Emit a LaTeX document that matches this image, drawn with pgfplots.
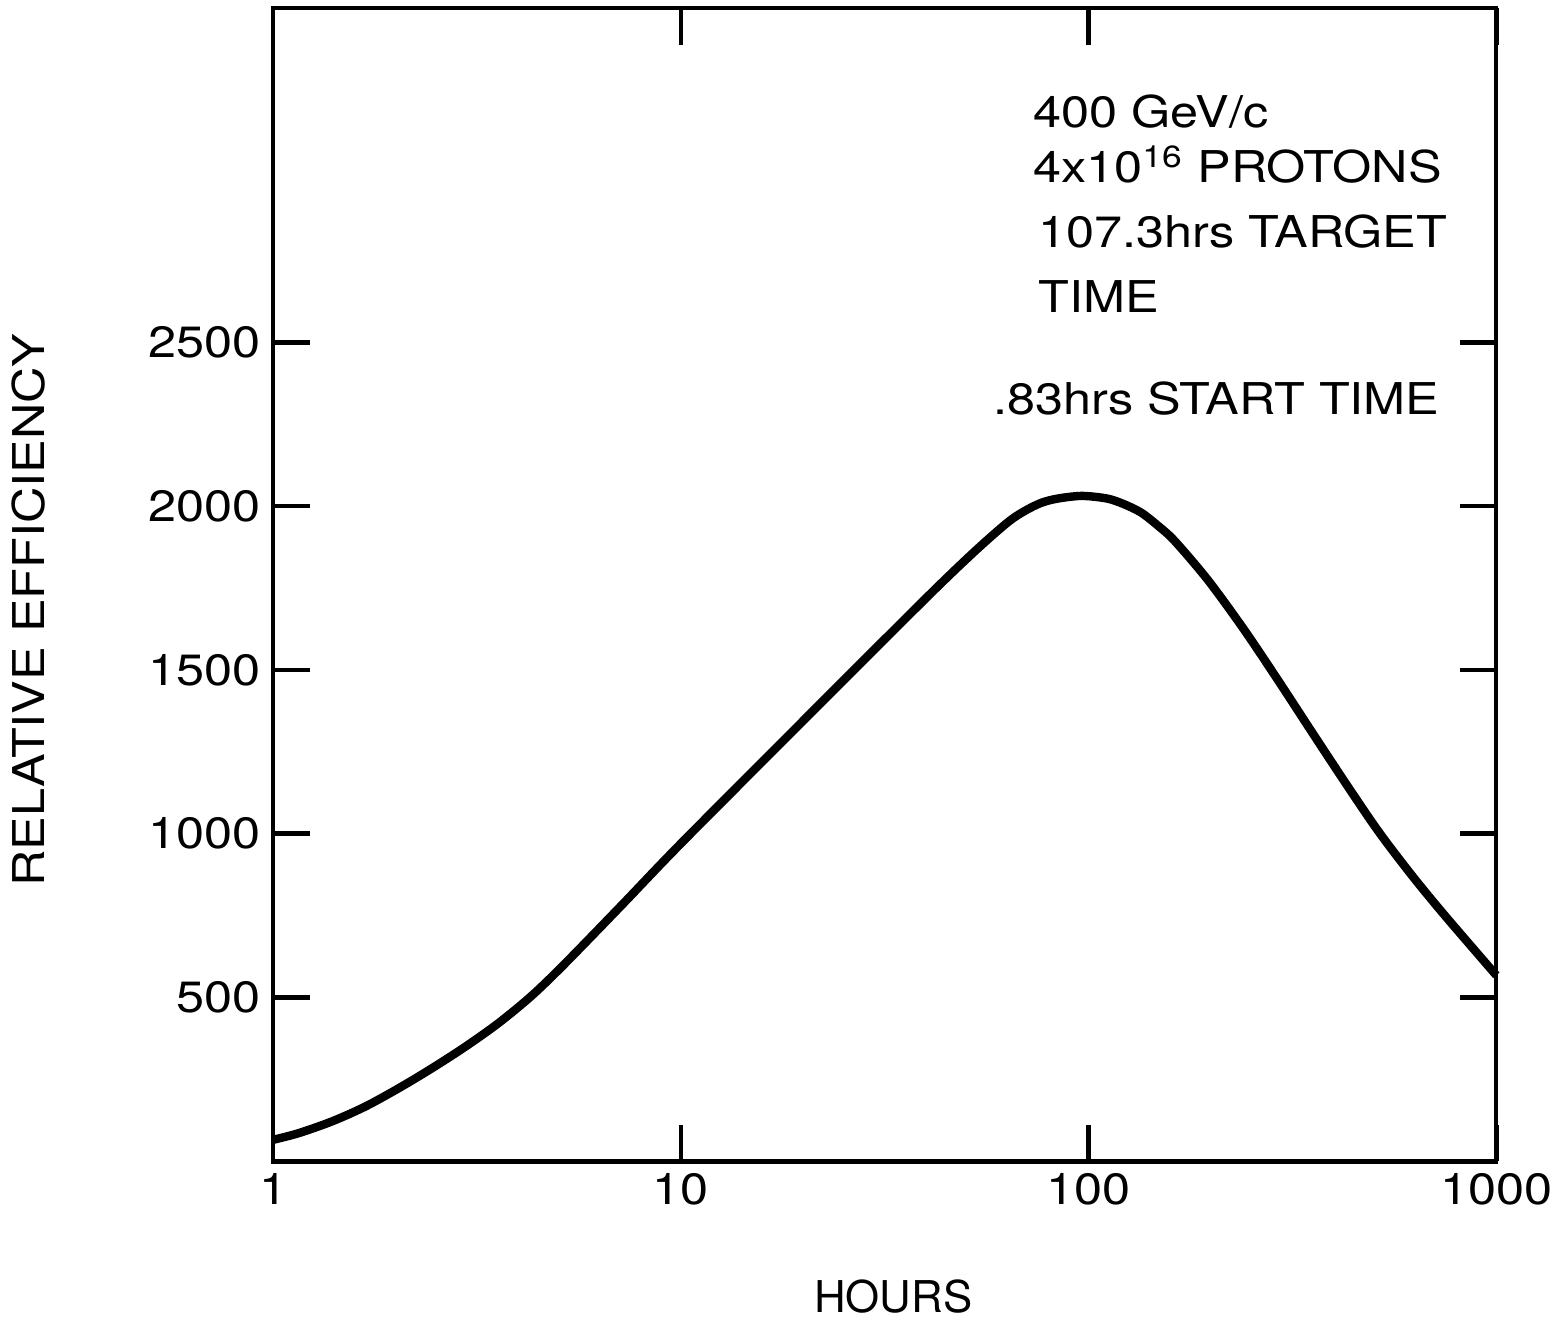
\documentclass[border=0pt]{standalone}
\usepackage{pgfplots}
\pgfplotsset{compat=1.18}
\usepackage{fontspec}
\setmainfont{TeX Gyre Heros}[FakeStretch=1.15]
\newfontfamily\plainheros{TeX Gyre Heros}
\newcommand{\lbl}{\fontsize{12.5}{15}\selectfont}
\begin{document}
\begin{tikzpicture}
\begin{axis}[
  width=12.27cm, height=11.57cm, scale only axis,
  xmode=log, xmin=1, xmax=1000, ymin=0, ymax=3520,
  xtick={1,10,100,1000}, xticklabels={1,10,100,1000},
  ytick={500,1000,1500,2000,2500},
  yticklabels={500,1000,1500,2000,2500},
  xminorticks=false, yminorticks=false,
  tick align=inside, major tick length=0.37cm,
  tick style={line width=1.3pt, black},
  axis line style={line width=1.2pt},
  tick label style={font=\lbl},
  xlabel={\plainheros HOURS}, ylabel={RELATIVE EFFICIENCY},
  label style={font=\lbl},
  xlabel style={at={(axis description cs:0.507,-0.117)}, anchor=center},
  ylabel style={at={(axis description cs:-0.2,0.478)}, anchor=center},
  clip=false,
]
\addplot[line width=2.4pt, black, smooth, tension=0.5] coordinates {
  (1,66) (1.153,86) (1.393,122) (1.68,167) (2.03,223) (2.45,284)
  (2.96,350) (3.57,422) (4.31,506) (5.2,604) (7.2,785)
  (10,970) (20,1346) (40,1720) (52.6,1862) (63.3,1950) (69.7,1985)
  (76.6,2010) (84.1,2023) (96.3,2031) (111,2023) (122,2006)
  (134.6,1980) (148,1940) (162.5,1894) (196,1775) (240,1625)
  (291,1470) (351,1315) (424,1160) (512,1010) (618,876)
  (746,752) (1000,568)
};
\node[anchor=base west, font=\lbl, inner sep=0pt] at (axis cs:72.9,3155) {400 GeV/c};
\node[anchor=base west, font=\lbl, inner sep=0pt] at (axis cs:72.9,2988) {4x10\textsuperscript{16} PROTONS};
\node[anchor=base west, font=\lbl, inner sep=0pt] at (axis cs:75,2790) {107.3hrs TARGET};
\node[anchor=base west, font=\lbl, inner sep=0pt] at (axis cs:75,2590) {TIME};
\node[anchor=base west, font=\lbl, inner sep=0pt] at (axis cs:58.2,2280) {.83hrs START TIME};
\end{axis}
\path ([yshift=0.8mm]current axis.north);
\end{tikzpicture}
\end{document}
